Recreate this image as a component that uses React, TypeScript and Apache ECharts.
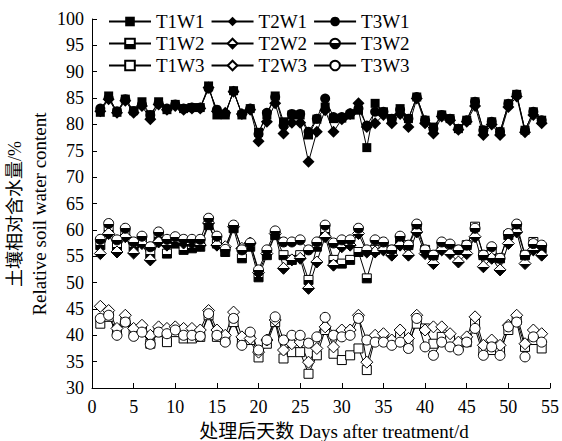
import React, { useEffect, useRef } from 'react';
import * as echarts from 'echarts';

const days = [1,2,3,4,5,6,7,8,9,10,11,12,13,14,15,16,17,18,19,20,21,22,23,24,25,26,27,28,29,30,31,32,33,34,35,36,37,38,39,40,41,42,43,44,45,46,47,48,49,50,51,52,53,54];

const T1W1 = [82.3,85.4,82.3,84.8,82.6,84.3,81.8,84.3,82.8,83.8,83.0,83.2,83.2,87.3,81.8,81.8,86.4,81.8,83.0,78.5,81.8,85.4,80.5,81.8,81.8,78.0,81.0,83.3,81.1,81.2,81.8,82.7,75.6,84.0,82.4,81.1,83.0,81.1,85.2,80.8,79.5,81.8,81.1,79.2,80.8,84.3,78.9,80.5,78.6,83.9,85.7,78.9,82.4,80.8];
const T2W1 = [82.5,84.8,82.2,84.5,82.2,83.5,81.0,83.8,82.8,83.5,82.8,83.0,83.0,87.0,82.5,82.2,86.2,82.0,82.8,76.8,80.5,84.0,78.3,80.3,80.3,72.9,78.6,82.7,78.6,81.0,82.0,84.0,79.5,80.2,81.8,80.2,82.0,79.5,84.9,80.2,78.3,81.5,80.8,79.0,80.5,83.5,78.0,80.0,78.0,83.3,85.3,78.5,81.8,80.2];
const T3W1 = [83.0,85.0,82.5,84.8,82.5,83.8,81.8,84.0,83.0,83.8,83.0,83.2,83.2,86.8,82.8,82.0,86.3,82.0,83.0,78.2,82.2,85.2,79.8,82.0,82.0,78.6,81.1,84.9,81.4,81.4,82.1,83.0,79.8,82.4,82.4,81.1,82.8,81.1,85.2,80.8,79.2,81.8,81.1,79.2,80.8,84.3,78.9,80.5,78.6,83.9,85.7,78.9,82.4,80.8];

const T1W2 = [57.1,60.0,56.8,59.3,56.8,57.7,55.5,58.7,55.5,57.4,56.2,56.5,56.8,60.9,57.4,55.8,60.3,54.6,56.8,51.0,55.2,59.0,55.2,54.3,55.2,50.5,56.8,59.6,54.3,53.6,54.3,55.8,50.8,56.2,56.8,56.2,58.1,57.1,60.3,56.2,55.2,56.8,56.2,56.2,57.1,60.6,55.2,55.5,54.6,59.0,60.3,55.2,57.7,56.5];
const T2W2 = [55.5,59.3,55.8,58.7,55.6,57.4,54.3,57.7,57.1,57.7,57.5,57.4,57.1,61.3,57.1,56.8,60.6,56.5,57.5,51.9,55.5,59.3,52.7,54.3,54.6,48.9,53.9,58.7,53.3,56.8,57.1,59.3,55.8,55.8,56.2,55.2,57.1,55.2,59.6,55.5,53.6,56.2,55.5,53.9,55.5,58.7,53.0,54.6,52.4,57.4,59.6,53.6,56.2,55.2];
const T3W2 = [58.2,61.2,58.1,60.3,57.7,58.8,56.8,59.6,58.2,58.7,58.2,58.2,58.2,62.2,58.8,56.3,60.9,56.2,57.5,52.4,56.2,59.8,57.7,57.7,58.1,56.2,57.7,60.9,57.5,58.1,58.1,60.3,56.2,58.1,57.7,56.2,58.8,57.1,61.1,56.2,55.2,57.7,57.3,56.2,57.1,60.3,55.2,56.8,54.6,59.3,61.1,55.2,57.4,57.1];

const T1W3 = [42.2,43.5,41.0,42.5,41.0,41.0,38.4,40.6,38.7,40.6,39.4,39.4,39.7,43.8,39.7,39.1,42.5,38.7,39.1,35.8,38.4,42.5,35.6,36.8,36.8,32.7,36.2,41.0,36.5,35.3,36.2,37.5,33.4,39.4,39.4,38.7,39.7,38.7,42.2,41.3,38.4,39.7,39.1,38.1,38.7,42.2,37.2,37.2,37.2,41.0,42.9,37.8,39.1,37.5];
const T2W3 = [45.5,44.7,41.3,43.8,41.3,41.9,40.0,41.6,41.3,41.6,41.3,41.3,41.0,44.7,41.0,40.0,44.4,39.7,39.4,36.8,39.1,42.9,37.2,38.4,38.7,34.9,37.5,41.6,37.8,41.0,41.0,43.8,34.9,40.0,40.3,39.1,41.0,39.4,43.8,41.0,41.6,41.6,40.3,38.7,39.7,43.5,38.1,39.1,38.1,41.9,43.8,38.4,41.0,40.3];
const T3W3 = [43.2,43.8,40.0,42.5,39.8,40.6,38.3,40.6,40.3,41.0,40.0,40.0,39.8,44.1,40.0,38.7,43.2,38.1,40.6,37.2,39.1,43.5,39.1,40.0,40.0,38.5,39.7,43.4,40.0,39.7,40.0,43.2,39.1,38.7,38.7,38.1,38.7,37.5,43.2,37.8,36.2,38.7,37.8,37.2,38.7,41.3,36.2,37.8,36.2,41.6,42.5,35.9,39.7,38.7];

const legendRows = [
  ['T1W1', 'T2W1', 'T3W1'],
  ['T1W2', 'T2W2', 'T3W2'],
  ['T1W3', 'T2W3', 'T3W3'],
];

const xTitle = '处理后天数 Days after treatment/d';
const yTitleCn = '土壤相对含水量/%';
const yTitleEn = 'Relative soil water content';

export default function App() {
  const ref = useRef<HTMLDivElement>(null);
  useEffect(() => {
    document.body.style.margin = '0';
    const chart = echarts.init(ref.current as HTMLDivElement, null, { renderer: 'svg' });
    const font = "'Liberation Serif', 'Times New Roman', 'Noto Sans CJK SC', serif";
    const halfFill = () =>
      new echarts.graphic.LinearGradient(0, 0, 0, 1, [
        { offset: 0, color: '#fff' },
        { offset: 0.5, color: '#fff' },
        { offset: 0.5, color: '#000' },
        { offset: 1, color: '#000' },
      ]);
    const mk = (name: string, values: number[], symbol: string, size: number, kind: 'solid' | 'half' | 'open') => ({
      name,
      type: 'line',
      data: days.map((d, i) => [d, values[i]]),
      symbol,
      symbolSize: size,
      showSymbol: true,
      lineStyle: { color: '#000', width: 1 },
      itemStyle: {
        color: kind === 'solid' ? '#000' : kind === 'half' ? halfFill() : '#fff',
        borderColor: '#000',
        borderWidth: kind === 'solid' ? 0 : 1,
      },
      emphasis: { disabled: true },
    });
    const rowTops = [12, 34, 56];
    chart.setOption({
      animation: false,
      grid: { left: 92, right: 8, top: 19, bottom: 53, containLabel: false },
      legend: legendRows.map((row, r) => ({
        data: row,
        left: 108,
        top: rowTops[r],
        orient: 'horizontal',
        itemWidth: 42,
        itemHeight: 12,
        itemGap: 6,
        padding: 0,
        selectedMode: false,
        textStyle: { fontFamily: font, fontSize: 19, color: '#000' },
      })),
      xAxis: {
        type: 'value',
        min: 0,
        max: 55,
        interval: 5,
        axisLine: { show: true, lineStyle: { color: '#000', width: 1 } },
        axisTick: { show: true, inside: true, length: 5, lineStyle: { color: '#000' } },
        axisLabel: { color: '#000', fontFamily: font, fontSize: 18, margin: 10 },
        splitLine: { show: false },
      },
      yAxis: {
        type: 'value',
        min: 30,
        max: 100,
        interval: 5,
        axisLine: { show: true, lineStyle: { color: '#000', width: 1 } },
        axisTick: { show: true, inside: true, length: 5, lineStyle: { color: '#000' } },
        axisLabel: { color: '#000', fontFamily: font, fontSize: 18, margin: 8 },
        splitLine: { show: false },
      },
      graphic: [
        {
          type: 'text',
          x: 334,
          y: 431,
          style: { text: xTitle, font: `19px ${font}`, fill: '#000', textAlign: 'center', textVerticalAlign: 'middle' },
        },
        {
          type: 'text',
          x: 15,
          y: 214,
          rotation: Math.PI / 2,
          style: { text: yTitleCn, font: `18px ${font}`, fill: '#000', textAlign: 'center', textVerticalAlign: 'middle' },
        },
        {
          type: 'text',
          x: 39,
          y: 214,
          rotation: Math.PI / 2,
          style: { text: yTitleEn, font: `19px ${font}`, fill: '#000', textAlign: 'center', textVerticalAlign: 'middle' },
        },
      ],
      series: [
        mk('T1W1', T1W1, 'rect', 9, 'solid'),
        mk('T2W1', T2W1, 'diamond', 12, 'solid'),
        mk('T3W1', T3W1, 'circle', 10, 'solid'),
        mk('T1W2', T1W2, 'rect', 9, 'half'),
        mk('T2W2', T2W2, 'diamond', 12, 'half'),
        mk('T3W2', T3W2, 'circle', 10, 'half'),
        mk('T1W3', T1W3, 'rect', 9, 'open'),
        mk('T2W3', T2W3, 'diamond', 12, 'open'),
        mk('T3W3', T3W3, 'circle', 10, 'open'),
      ],
    });
    return () => chart.dispose();
  }, []);
  return <div ref={ref} style={{ width: 562, height: 441 }} />;
}
